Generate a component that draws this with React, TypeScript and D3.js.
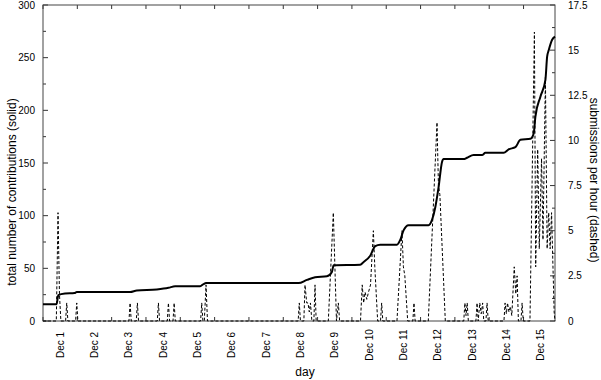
import React from "react";
import * as d3 from "d3";

// ---- data (hours since Dec 1 00:00) ----
const dayLabels = ["Dec 1","Dec 2","Dec 3","Dec 4","Dec 5","Dec 6","Dec 7","Dec 8","Dec 9","Dec 10","Dec 11","Dec 12","Dec 13","Dec 14","Dec 15"];
const leftTicks = [0, 50, 100, 150, 200, 250, 300];
const rightTicks = [0, 2.5, 5, 7.5, 10, 12.5, 15, 17.5];

const totalHours = [0,9.5,10.7,15.4,22,23.6,60.9,65.6,79.6,87.7,92.4,109.9,112.2,114,178.7,184.5,190.3,198.5,202,203.2,221.8,224.2,228.8,232.3,235.8,247.5,249.8,252.1,255.6,269.6,272,274.3,276.6,279,280.1,294.1,296.5,301.1,307,309.3,322.1,325.6,330.3,333.8,340.8,343.1,344.3,347.8,351.3,352.5,353.6,356,358];
const totalValues = [16,16,24.5,26,26.5,27.5,27.5,29,30,31.5,33,33,35,36,36,39,41.5,42.5,46.6,53,53.5,56,62,71,72.5,72.5,77,86,91,91,96,108,127,151,153.7,153.7,155,157.5,157.5,159.7,159.7,163,165,172,173,178,194,213,229,251,257,267,270];

const rateHours = [0,9.3,10.5,11.5,12.5,15.8,16.6,17.4,22.8,23.6,24.4,60.1,60.9,61.7,65.2,66,66.8,79.9,80.7,81.5,86.9,87.7,88.5,90.9,91.7,92.5,110.2,111,111.8,112.8,114,115,178.4,179.2,180,182.4,183.2,184.4,185.3,186.2,187,188,189.4,190.2,191,199.5,203,205.2,206.5,207.4,222,223.2,224.2,225.2,226.4,227.6,229,231,232,234,236,236.8,237.6,247.5,249.6,251,252,253,255,258.6,259.4,260.2,269.4,275.5,276.5,277.5,281.3,294.2,295,295.8,296.6,297.4,302.7,303.5,304.3,305.4,306.4,307.4,308.2,309.7,310.5,311.3,322.3,323.1,324,324.8,325.8,326.8,327.8,329.5,330.6,331.5,332.4,334.2,335,335.8,340.5,343.6,344.5,345.9,347,348.6,349.6,351.3,352.5,353.6,354.6,355.6,357.4,358];
const rateValues = [0,0,6,1.5,0,0,1,0,0,1,0,0,1,0,0,1,0,0,1,0,0,1,0,0,1,0,0,1,0,0,2,0,0,1,0,0,2,1,1,0.5,1,0,0,2,0,0,6,0,1,0,0,2,1,1.6,1.2,1.6,2,5,3,0,0,1,0,0,3,5,3,2.5,0,0,1,0,0,11,7.5,7,0,0,1,0.3,1,0,0,1,0,1,0.4,1,0,0,1,0,0,1,0.4,1,0.5,0.8,0.3,3,1.5,2.5,0,0,1,0,0,16,3,9.5,4,9,4.5,13.5,4,6,4,6,0.5,0];

const W = 601, H = 380;
const L = 43, R = 555, T = 5, B = 321;
const FONT = "'Liberation Sans', Arial, Helvetica, sans-serif";

export default function App() {
  const x = d3.scaleLinear().domain([0, 358]).range([L, R]);
  const yL = d3.scaleLinear().domain([0, 300]).range([B, T]);
  const yR = d3.scaleLinear().domain([0, 17.5]).range([B, T]);

  const totalPts: [number, number][] = totalHours.map((h, i) => [h, totalValues[i]]);
  const ratePts: [number, number][] = rateHours.map((h, i) => [h, rateValues[i]]);

  const solid = d3.line<[number, number]>().x(d => x(d[0])).y(d => yL(d[1])).curve(d3.curveMonotoneX)(totalPts) || "";
  const dashed = d3.line<[number, number]>().x(d => x(d[0])).y(d => yR(d[1]))(ratePts) || "";

  const dayTicks = d3.range(0, 15).map(k => k * 24);
  const leftMinor = d3.range(0, 301, 25);
  const rightMinor = d3.range(0, 17.51, 1.25);

  return (
    <svg width={W} height={H} style={{ position: "absolute", left: 0, top: 0, background: "#fff" }} fontFamily={FONT}>
      <rect x={0} y={0} width={W} height={H} fill="#fff" />
      {/* ticks */}
      {leftMinor.map(v => (
        <line key={"lm" + v} x1={L} x2={L + (v % 50 === 0 ? 5 : 3)} y1={yL(v)} y2={yL(v)} stroke="#333" strokeWidth={1} />
      ))}
      {rightMinor.map(v => (
        <line key={"rm" + v} x1={R} x2={R - (Math.abs(v / 2.5 - Math.round(v / 2.5)) < 1e-6 ? 5 : 3)} y1={yR(v)} y2={yR(v)} stroke="#333" strokeWidth={1} />
      ))}
      {dayTicks.map(h => (
        <g key={"dt" + h}>
          <line x1={x(h)} x2={x(h)} y1={B} y2={B - 4} stroke="#333" strokeWidth={1} />
          <line x1={x(h)} x2={x(h)} y1={T} y2={T + 4} stroke="#333" strokeWidth={1} />
        </g>
      ))}
      {/* border */}
      <rect x={L} y={T} width={R - L} height={B - T} fill="none" stroke="#444" strokeWidth={1} />
      {/* data */}
      <path d={dashed} fill="none" stroke="#000" strokeWidth={1} strokeDasharray="3,2" />
      <path d={solid} fill="none" stroke="#000" strokeWidth={2} strokeLinejoin="round" />
      {/* tick labels */}
      {leftTicks.map(v => (
        <text key={"lt" + v} x={35} y={yL(v)} textAnchor="end" dominantBaseline="central" fontSize={10} fill="#000">{v}</text>
      ))}
      {rightTicks.map(v => (
        <text key={"rt" + v} x={568} y={yR(v)} textAnchor="start" dominantBaseline="central" fontSize={10} fill="#000">{v}</text>
      ))}
      {dayLabels.map((lab, i) => (
        <text key={lab} transform={`translate(${x(12 + 24 * i)},345) rotate(-90)`} textAnchor="middle" dominantBaseline="central" fontSize={10} fill="#000">{lab}</text>
      ))}
      {/* axis titles */}
      <text transform="translate(12,192) rotate(-90)" textAnchor="middle" dominantBaseline="central" fontSize={12} fill="#000">total number of contributions (solid)</text>
      <text transform="translate(594,180) rotate(90)" textAnchor="middle" dominantBaseline="central" fontSize={12} fill="#000">submissions per hour (dashed)</text>
      <text x={305} y={372} textAnchor="middle" dominantBaseline="central" fontSize={12} fill="#000">day</text>
    </svg>
  );
}
